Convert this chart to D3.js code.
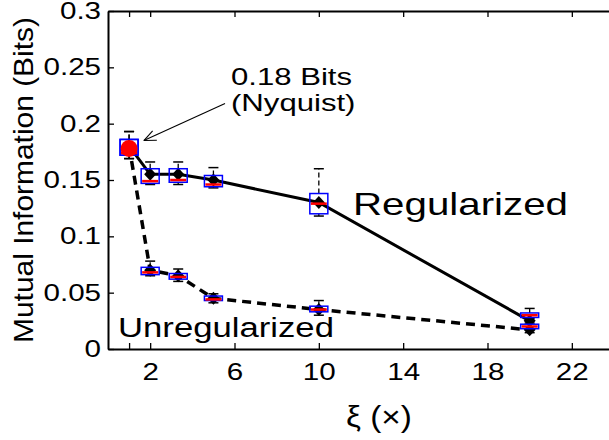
<!DOCTYPE html>
<meta charset="utf-8">
<style>
  body { margin: 0; background: #fff; }
  text { font-family: "Liberation Sans", Arial, sans-serif; fill: #000; }
</style>
<body>
<div id="chart"></div>
<script src="https://cdnjs.cloudflare.com/ajax/libs/d3/7.8.5/d3.min.js"></script>
<script>

// sampling factor xi and the two curves (mean values)
var xVals     = [1, 2, 3.33, 5, 10, 20];
var regMean   = [0.18, 0.155, 0.155, 0.15, 0.13, 0.025];
var unregMean = [0.18, 0.07, 0.065, 0.045, 0.035, 0.017];

// box plot stats, regularized
var regLo  = [0.169, 0.146, 0.146, 0.143, 0.118, 0.027];
var regQ1  = [0.172, 0.147, 0.148, 0.144, 0.120, 0.028];
var regMed = [0.174, 0.149, 0.150, 0.146, 0.129, 0.030];
var regQ3  = [0.186, 0.160, 0.160, 0.154, 0.138, 0.032];
var regHi  = [0.193, 0.166, 0.166, 0.161, 0.160, 0.036];

// box plot stats, unregularized
var unregLo  = [0.169, 0.065, 0.060, 0.041, 0.030, 0.0145];
var unregQ1  = [0.172, 0.066, 0.062, 0.043, 0.033, 0.018];
var unregMed = [0.174, 0.068, 0.064, 0.044, 0.035, 0.020];
var unregQ3  = [0.186, 0.0725, 0.067, 0.047, 0.038, 0.022];
var unregHi  = [0.193, 0.078, 0.071, 0.049, 0.043, 0.023];

var xTicks = [1, 2, 6, 10, 14, 18, 22];
var yTicks = [0, 0.05, 0.1, 0.15, 0.2, 0.25, 0.3];

var nyquist = {x: 1, y: 0.178};

var width = 609,
    height = 440;

var x = d3.scaleLinear().domain([0, 24]).range([108, 614]);
var y = d3.scaleLinear().domain([0, 0.3]).range([349, 11]);

var svg = d3.select("#chart").append("svg")
    .attr("width", width)
    .attr("height", height);

// text helper: the original font is drawn wider than ours
function label(px, py, str, size, sx, anchor) {
  return svg.append("text")
      .attr("transform", "translate(" + px + "," + py + ") scale(" + sx + ",1)")
      .attr("text-anchor", anchor || "start")
      .style("font-size", size + "px")
      .text(str);
}

// axes
var xAxis = svg.append("g")
    .attr("transform", "translate(0," + y(0) + ")")
    .call(d3.axisBottom(x).tickValues(xTicks).tickSize(-6).tickSizeOuter(0).tickPadding(14)
      .tickFormat(function(d) { return d === 1 ? "" : d; }));
var xTop = svg.append("g")
    .attr("transform", "translate(0," + y(0.3) + ")")
    .call(d3.axisTop(x).tickValues(xTicks).tickSize(-6).tickSizeOuter(0).tickFormat(""));
var yAxis = svg.append("g")
    .attr("transform", "translate(" + x(0) + ",0)")
    .call(d3.axisLeft(y).tickValues(yTicks).tickSize(-6).tickSizeOuter(0).tickPadding(5.5)
      .tickFormat(function(d) { return d3.format("")(+d.toFixed(2)); }));

[xAxis, xTop, yAxis].forEach(function(g) {
  g.select(".domain").attr("stroke-width", 2);
  g.selectAll(".tick line").attr("stroke-width", 1.3);
  g.selectAll(".tick text")
      .style("font-size", "23.5px")
      .style("font-family", "'Liberation Sans', Arial, sans-serif")
      .attr("fill", "#000")
      .attr("transform", "scale(1.26,1)");
});

// curves
var line = d3.line()
    .x(function(d) { return x(d[0]); })
    .y(function(d) { return y(d[1]); });

svg.append("path")
    .datum(d3.zip(xVals, regMean))
    .attr("d", line)
    .attr("fill", "none")
    .attr("stroke", "#000")
    .attr("stroke-width", 3);

svg.append("path")
    .datum(d3.zip(xVals, unregMean))
    .attr("d", line)
    .attr("fill", "none")
    .attr("stroke", "#000")
    .attr("stroke-width", 3.5)
    .attr("stroke-dasharray", "9,6");

function boxes(lo, q1, med, q3, hi, mean) {
  var bw = 9, cw = 5;
  var rows = xVals.map(function(v, i) {
    return {x: v, lo: lo[i], q1: q1[i], med: med[i], q3: q3[i], hi: hi[i], m: mean[i]};
  });
  var g = svg.append("g");
  var b = g.selectAll("g").data(rows).enter().append("g");

  // whiskers
  b.append("line")
      .attr("x1", function(d) { return x(d.x); }).attr("x2", function(d) { return x(d.x); })
      .attr("y1", function(d) { return y(d.q3); }).attr("y2", function(d) { return y(d.hi); })
      .attr("stroke", "#000").attr("stroke-width", 1.3).attr("stroke-dasharray", "5,3");
  b.append("line")
      .attr("x1", function(d) { return x(d.x); }).attr("x2", function(d) { return x(d.x); })
      .attr("y1", function(d) { return y(d.q1); }).attr("y2", function(d) { return y(d.lo); })
      .attr("stroke", "#000").attr("stroke-width", 1.3).attr("stroke-dasharray", "5,3");
  ["hi", "lo"].forEach(function(k) {
    b.append("line")
        .attr("x1", function(d) { return x(d.x) - cw; }).attr("x2", function(d) { return x(d.x) + cw; })
        .attr("y1", function(d) { return y(d[k]); }).attr("y2", function(d) { return y(d[k]); })
        .attr("stroke", "#000").attr("stroke-width", 1.5);
  });

  // mean diamonds
  b.append("path")
      .attr("d", function(d) {
        var cx = x(d.x), cy = y(d.m);
        return "M" + cx + "," + (cy - 6.5) + "L" + (cx + 6) + "," + cy +
               "L" + cx + "," + (cy + 6.5) + "L" + (cx - 6) + "," + cy + "Z";
      })
      .attr("fill", "#000");

  return b;
}

var regB = boxes(regLo, regQ1, regMed, regQ3, regHi, regMean);
var unregB = boxes(unregLo, unregQ1, unregMed, unregQ3, unregHi, unregMean);

// Nyquist point
svg.append("circle")
    .attr("cx", x(nyquist.x))
    .attr("cy", y(nyquist.y))
    .attr("r", 8.5)
    .attr("fill", "#f00");

[regB, unregB].forEach(function(b) {
  b.append("rect")
      .attr("x", function(d) { return x(d.x) - 9; })
      .attr("width", 18)
      .attr("y", function(d) { return y(d.q3); })
      .attr("height", function(d) { return y(d.q1) - y(d.q3); })
      .attr("fill", "none")
      .attr("stroke", "#0000ff")
      .attr("stroke-width", 1.5);
  b.append("line")
      .attr("x1", function(d) { return x(d.x) - 8; }).attr("x2", function(d) { return x(d.x) + 8; })
      .attr("y1", function(d) { return y(d.med); }).attr("y2", function(d) { return y(d.med); })
      .attr("stroke", "#f00")
      .attr("stroke-width", 2.5);
});

// annotation arrow
var tip = [x(1.7), y(0.185)], tail = [x(5.55), y(0.218)];
svg.append("line")
    .attr("x1", tail[0]).attr("y1", tail[1])
    .attr("x2", tip[0]).attr("y2", tip[1])
    .attr("stroke", "#000").attr("stroke-width", 1.1);
var ang = Math.atan2(tail[1] - tip[1], tail[0] - tip[0]);
[-0.4, 0.4].forEach(function(da) {
  svg.append("line")
      .attr("x1", tip[0]).attr("y1", tip[1])
      .attr("x2", tip[0] + 13 * Math.cos(ang + da))
      .attr("y2", tip[1] + 13 * Math.sin(ang + da))
      .attr("stroke", "#000").attr("stroke-width", 1.1);
});

// texts
label(231, 85, "0.18 Bits", 24.5, 1.27);
label(231, 111, "(Nyquist)", 24.5, 1.27);
label(353, 215, "Regularized", 31, 1.3);
label(118, 337, "Unregularized", 27, 1.285);
label(379, 427, "\u03be (\u00d7)", 29, 1.15, "middle");

svg.append("text")
    .attr("transform", "translate(33,180) rotate(-90) scale(1.05,1)")
    .attr("text-anchor", "middle")
    .style("font-size", "28.5px")
    .text("Mutual Information (Bits)");

</script>
</body>
